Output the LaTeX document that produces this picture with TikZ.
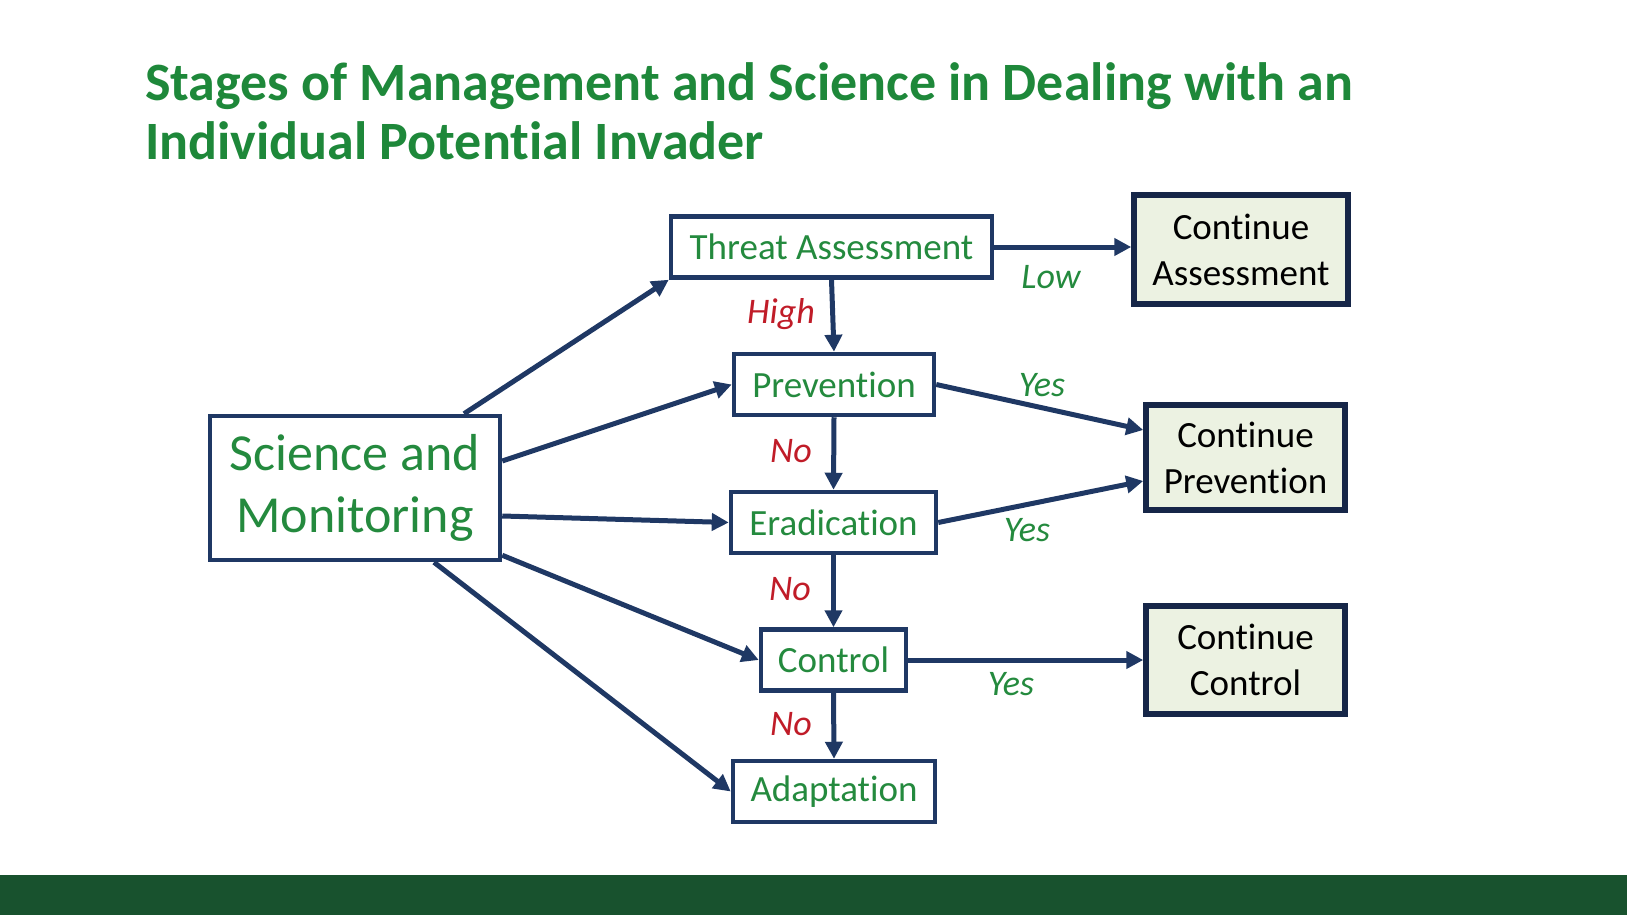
\documentclass[tikz,border=0pt]{standalone}
\usepackage{fontspec}
\setmainfont[Ligatures=NoCommon]{Carlito}
\usetikzlibrary{arrows.meta}

\definecolor{navy}{RGB}{31,56,100}
\definecolor{navydark}{RGB}{22,38,72}
\definecolor{leafgreen}{RGB}{36,138,62}
\definecolor{titlegreen}{RGB}{30,136,58}
\definecolor{alertred}{RGB}{192,28,40}
\definecolor{barfill}{RGB}{24,82,46}
\definecolor{contfill}{RGB}{236,242,226}

\tikzset{
  stagebox/.style={draw=navy, line width=4.5, fill=white, text=leafgreen, inner sep=0,
    font=\fontsize{37}{44}\selectfont, minimum height=61},
  contbox/.style={draw=navydark, line width=5.5, fill=contfill, text=black, inner sep=0,
    align=center, font=\fontsize{37}{46}\selectfont},
  flow/.style={draw=navy, line width=5, -{Triangle[length=17,width=17]}},
  yeslabel/.style={anchor=base, text=leafgreen, font=\fontsize{36}{42}\selectfont\itshape},
  nolabel/.style={anchor=base, text=alertred, font=\fontsize{36}{42}\selectfont\itshape}
}

\begin{document}
\begin{tikzpicture}[x=1pt,y=1pt,yscale=-1,xscale=1]
\useasboundingbox (0,0) rectangle (1627,915);

% Bottom bar
\fill [barfill] (0,875) rectangle (1627,915);

% Title
\node (title1) at (145,101) [anchor=base west, inner sep=0, text=titlegreen, font=\fontsize{54}{58}\selectfont\bfseries] {Stages of Management and Science in Dealing with an};
\node (title2) at (145,159) [anchor=base west, inner sep=0, text=titlegreen, font=\fontsize{54}{58}\selectfont\bfseries] {Individual Potential Invader};

% Stage boxes
\node (sci) at (355,488) [stagebox, minimum width=290, minimum height=144, align=center, font=\fontsize{52}{62}\selectfont] {Science and\\Monitoring};
\node (threat) at (831.5,247) [stagebox, minimum width=321] {Threat Assessment};
\node (prev) at (834,384.5) [stagebox, minimum width=200] {Prevention};
\node (erad) at (833.5,522.5) [stagebox, minimum width=205] {Eradication};
\node (ctrl) at (833.5,660) [stagebox, minimum width=145] {Control};
\node (adapt) at (834,791.5) [stagebox, minimum width=202] {Adaptation};

% Continue boxes
\node (contA) at (1241,249.5) [contbox, minimum width=214, minimum height=109] {Continue\\Assessment};
\node (contP) at (1245.5,457.5) [contbox, minimum width=199, minimum height=105] {Continue\\Prevention};
\node (contC) at (1245.5,660) [contbox, minimum width=199, minimum height=108] {Continue\\Control};

% Arrows from science and monitoring
\draw [flow] ([xshift=109]sci.north) -- (threat.south west);
\draw [flow] ([yshift=-27]sci.east) -- (prev.west);
\draw [flow] ([yshift=28]sci.east) -- (erad.west);
\draw [flow] ([yshift=-7]sci.south east) -- (ctrl.west);
\draw [flow] ([xshift=79]sci.south) -- (adapt.west);

% Arrows down the stages
\draw [flow] (threat.south) -- (prev.north);
\draw [flow] (prev.south) -- (erad.north);
\draw [flow] (erad.south) -- (ctrl.north);
\draw [flow] (ctrl.south) -- (adapt.north);

% Arrows to continue boxes
\draw [flow] (threat.east) -- (threat.east -| contA.west);
\draw [flow] (prev.east) -- ([yshift=-27.5]contP.west);
\draw [flow] (erad.east) -- ([yshift=23.5]contP.west);
\draw [flow] (ctrl.east) -- (contC.west);

% Labels
\node (lblLow) at (1051,288) [yeslabel] {Low};
\node (lblHigh) at (781,323) [nolabel] {High};
\node (lblYesA) at (1042,396) [yeslabel] {Yes};
\node (lblNoA) at (791,462) [nolabel] {No};
\node (lblYesB) at (1027,541) [yeslabel] {Yes};
\node (lblNoB) at (790,600) [nolabel] {No};
\node (lblYesC) at (1011,695) [yeslabel] {Yes};
\node (lblNoC) at (791,735) [nolabel] {No};

\end{tikzpicture}
\end{document}
